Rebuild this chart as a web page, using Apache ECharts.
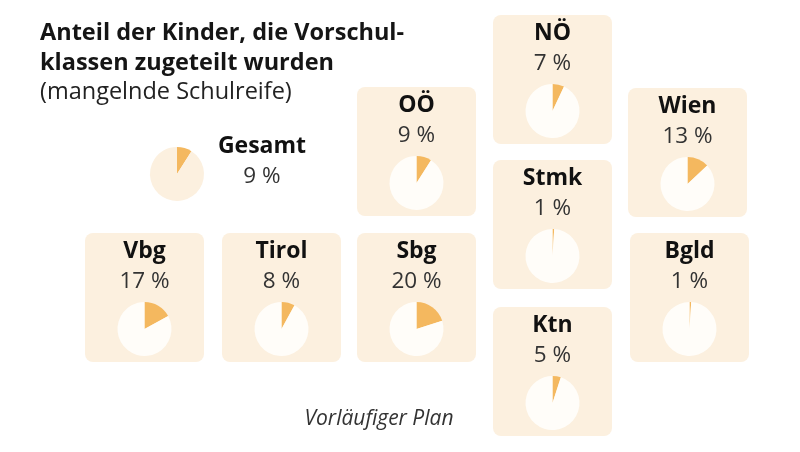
<!DOCTYPE html>
<html><head><meta charset="utf-8">
<script src="https://cdn.jsdelivr.net/npm/echarts@6/dist/echarts.min.js"></script>
<style>html,body{margin:0;padding:0;background:#fff}#c{width:800px;height:452px}</style>
</head><body><div id="c"></div>
<script>
// Data
const regions = ['NÖ','OÖ','Wien','Stmk','Vbg','Tirol','Sbg','Bgld','Ktn'];
const shares = [7, 9, 13, 1, 17, 8, 20, 1, 5];
const totalLabel = 'Gesamt';
const totalShare = 9;
const titleLines = ['Anteil der Kinder, die Vorschul-', 'klassen zugeteilt wurden'];
const subtitle = '(mangelnde Schulreife)';
const note = 'Vorläufiger Plan';

// Layout (box top-left corners)
const boxPos = [[493,15],[357,87],[628,88],[493,160],[85,233],[222,233],[357,233],[630,233],[493,307]];
const BW = 119, BH = 129, R = 27;
const FONT = '"Open Sans", sans-serif';
const ORANGE = '#f4b85f', BOX = '#fcf0df', PIEBG = '#fffdf9';

const chart = echarts.init(document.getElementById('c'), null, {renderer:'canvas'});
const graphics = [];
const series = [];
graphics.push({type:'text', x:40, y:33, style:{text:titleLines[0], font:'bold 23.5px '+FONT, fill:'#151515', verticalAlign:'middle'}});
graphics.push({type:'text', x:40, y:63, style:{text:titleLines[1], font:'bold 23.5px '+FONT, fill:'#151515', verticalAlign:'middle'}});
graphics.push({type:'text', x:40, y:92, style:{text:subtitle, font:'23.5px '+FONT, fill:'#222', verticalAlign:'middle'}});
graphics.push({type:'text', x:379, y:419, style:{text:note, font:'italic 21px '+FONT, fill:'#333', align:'center', verticalAlign:'middle'}});

regions.forEach((name,i)=>{
  const [x,y] = boxPos[i];
  const cx = x + BW/2;
  graphics.push({type:'rect', z:0, shape:{x:x, y:y, width:BW, height:BH, r:8}, style:{fill:BOX}});
  graphics.push({type:'text', z:2, x:cx, y:y+18, style:{text:name, font:'bold 23px '+FONT, fill:'#111', align:'center', verticalAlign:'middle'}});
  graphics.push({type:'text', z:2, x:cx, y:y+49, style:{text:shares[i]+' %', font:'22.5px '+FONT, fill:'#333', align:'center', verticalAlign:'middle'}});
  series.push({type:'pie', center:[cx, y+96], radius:[0,R], startAngle:90, clockwise:true, silent:true, animation:false,
    label:{show:false}, labelLine:{show:false},
    data:[{value:shares[i], itemStyle:{color:ORANGE}},{value:100-shares[i], itemStyle:{color:PIEBG}}]});
});
// Total
graphics.push({type:'text', z:2, x:262, y:146, style:{text:totalLabel, font:'bold 23px '+FONT, fill:'#111', align:'center', verticalAlign:'middle'}});
graphics.push({type:'text', z:2, x:262, y:177, style:{text:totalShare+' %', font:'22.5px '+FONT, fill:'#333', align:'center', verticalAlign:'middle'}});
series.push({type:'pie', center:[177,174], radius:[0,R], startAngle:90, clockwise:true, silent:true, animation:false,
  label:{show:false}, labelLine:{show:false},
  data:[{value:totalShare, itemStyle:{color:ORANGE}},{value:100-totalShare, itemStyle:{color:BOX}}]});

chart.setOption({animation:false, backgroundColor:'#fff', graphic:graphics, series:series});
</script></body></html>
